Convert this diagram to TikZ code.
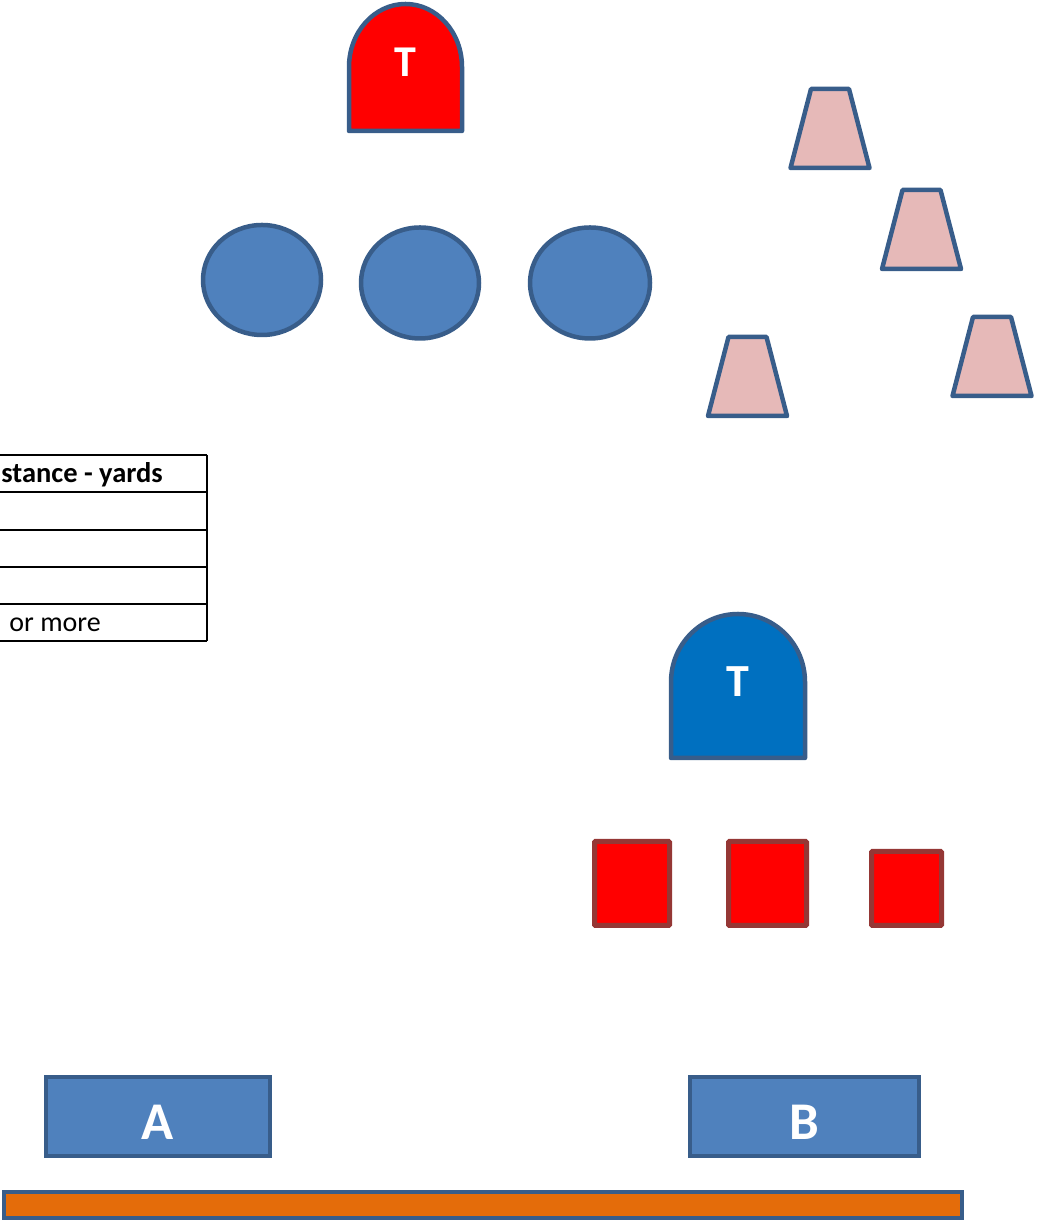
\documentclass[tikz,border=0pt]{standalone}
\usepackage{fontspec}
\setmainfont{Carlito}
\usepackage{xcolor}
\usepackage{tikz}
\usetikzlibrary{shapes.geometric}

\definecolor{edgeblue}{HTML}{385D8A}
\definecolor{fillblue}{HTML}{4F81BD}
\definecolor{teamblue}{HTML}{0070C0}
\definecolor{conepink}{HTML}{E6B9B8}
\definecolor{markeredge}{HTML}{953735}
\definecolor{lineorange}{HTML}{E46C0A}

\begin{document}
\begin{tikzpicture}[x=1pt, y=1pt,
    player/.style={ellipse, draw=edgeblue, line width=4.5pt, fill=fillblue, inner sep=0pt},
    cone/.style={draw=edgeblue, line width=4.5pt, fill=conepink, line join=round},
    marker/.style={rectangle, draw=markeredge, line width=5pt, fill=red, inner sep=0pt, rounded corners=1pt},
    gate/.style={rectangle, draw=edgeblue, line width=4.5pt, fill=fillblue, inner sep=0pt, text=white, text height=47pt, text depth=0pt, font=\bfseries\fontsize{53}{62}\selectfont},
    target/.style={draw=edgeblue, line width=4.5pt, line join=round},
    tlabel/.style={text=white, inner sep=0pt, font=\bfseries\fontsize{44}{52}\selectfont},
    grid/.style={draw=black, line width=1.6pt},
    cell/.style={inner sep=0pt, anchor=base east, font=\fontsize{28}{34}\selectfont}
]
    \clip (0,0) rectangle (1037,1222);

    % Red target
    \draw[target, fill=red] (349,1091) coordinate (redT) -- (349,1155) arc[start angle=180, end angle=0, x radius=56.5, y radius=63] -- (462,1091) -- cycle;
    \node[tlabel] (redTlabel) at (405,1160) {T};

    % Players
    \node[player, minimum width=118pt, minimum height=110pt] (player1) at (262,942) {};
    \node[player, minimum width=118pt, minimum height=111pt] (player2) at (420,939) {};
    \node[player, minimum width=120pt, minimum height=111pt] (player3) at (590,939) {};

    % Cones
    \foreach \name/\cx/\cy in {cone1/830/1054, cone2/921.5/953, cone3/747.5/806, cone4/992/826}
        \draw[cone] (\cx,\cy) coordinate (\name) ++(-39.5,0) -- ++(79,0) -- ++(-20.5,79) -- ++(-38,0) -- cycle;

    % Table
    \foreach \ty in {767,730,692,655,618,581}
        \draw[grid] (-100,\ty) -- (207,\ty);
    \draw[grid] (207,767) -- (207,581);
    \node[cell, font=\bfseries\fontsize{28.5}{34}\selectfont] (tablehead) at (163,739) {stance - yards};
    \node[cell] (tablelast) at (101,590) {or more};

    % Blue target
    \draw[target, fill=teamblue] (671,464) coordinate (blueT) -- (671,540) arc[start angle=180, end angle=0, x radius=67, y radius=68] -- (805,464) -- cycle;
    \node[tlabel, font=\bfseries\fontsize{46}{54}\selectfont] (blueTlabel) at (738,540) {T};

    % Markers
    \node[marker, minimum width=75pt, minimum height=84pt] (marker1) at (632,338.5) {};
    \node[marker, minimum width=78pt, minimum height=84pt] (marker2) at (767.5,338.5) {};
    \node[marker, minimum width=70pt, minimum height=74pt] (marker3) at (906.5,333.5) {};

    % Gates
    \node[gate, minimum width=224pt, minimum height=79pt] (gateA) at (158,105.5) {A};
    \node[gate, minimum width=229pt, minimum height=79pt] (gateB) at (804.5,105.5) {B};

    % Line
    \node[rectangle, draw=edgeblue, line width=4.5pt, fill=lineorange, inner sep=0pt, minimum width=958pt, minimum height=26pt] (baseline) at (483,17) {};

\end{tikzpicture}
\end{document}
